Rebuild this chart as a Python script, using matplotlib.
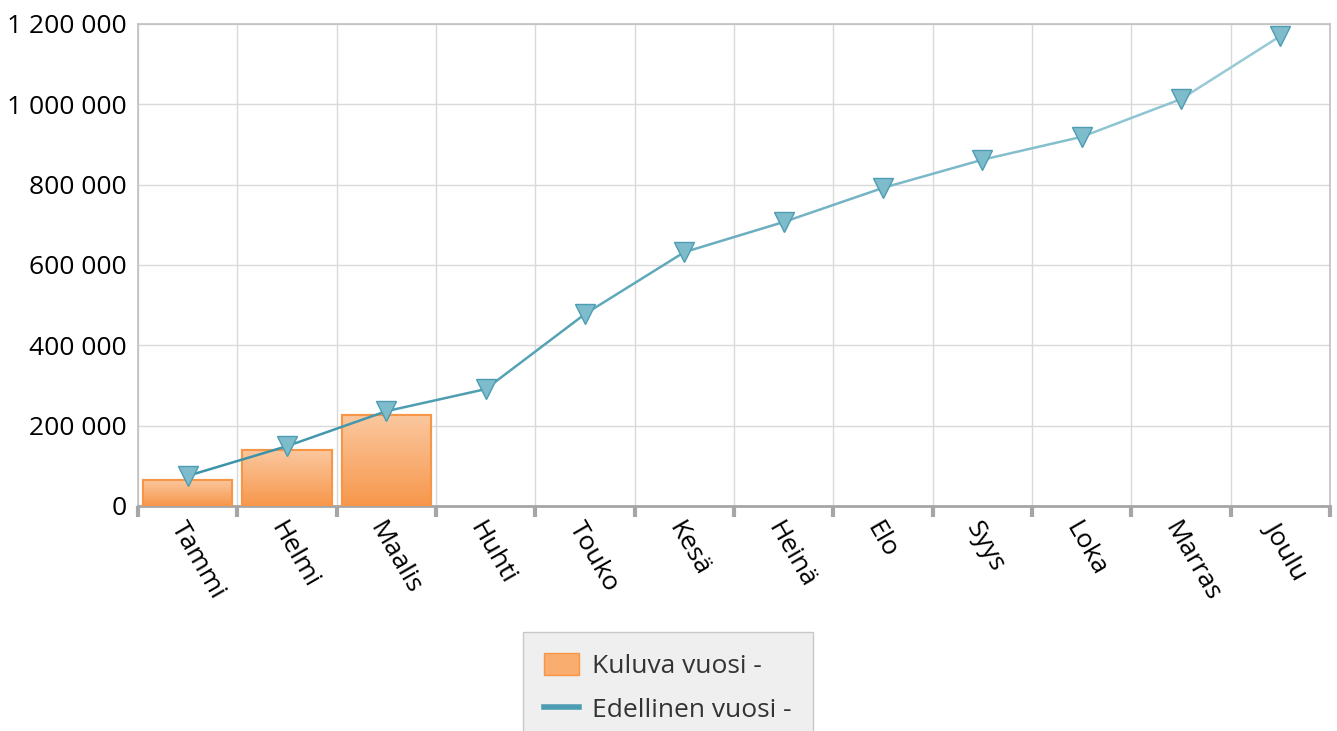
import numpy as np
import matplotlib.pyplot as plt
from matplotlib.collections import LineCollection
from matplotlib.colors import LinearSegmentedColormap
from matplotlib.ticker import FuncFormatter, MultipleLocator
from matplotlib.patches import Patch
from matplotlib.lines import Line2D

plt.rcParams['font.family'] = ['Open Sans', 'DejaVu Sans']

# month labels
months = ['Tammi', 'Helmi', 'Maalis', 'Huhti', 'Touko', 'Kesä',
          'Heinä', 'Elo', 'Syys', 'Loka', 'Marras', 'Joulu']
# current year (bars), only first three months so far
current_year = [65000, 139500, 227000]
# previous year (line)
previous_year = [75000, 149000, 236000, 291000, 478000, 632000,
                 707000, 792000, 862000, 919000, 1013000, 1170000]

fig = plt.figure(figsize=(13.37, 7.31), dpi=100)
ax = fig.add_axes([0.1032, 0.3078, 0.8916, 0.6594])

x = np.arange(len(months))
bars = ax.bar(x[:len(current_year)], current_year, width=0.9,
              color='#f9ad6e', edgecolor='#f79646', linewidth=1.5, zorder=2)

# vertical gradient in each bar
grad = np.linspace(0, 1, 256).reshape(-1, 1)
bar_cmap = LinearSegmentedColormap.from_list('b', ['#f7974b', '#fbc8a0'])
for b in bars:
    im = ax.imshow(grad, cmap=bar_cmap, origin='lower', aspect='auto',
                   extent=[b.get_x(), b.get_x() + b.get_width(), 0, b.get_height()],
                   zorder=2.5)
    im.set_clip_path(b)
    ax.add_patch(plt.Rectangle((b.get_x(), 0), b.get_width(), b.get_height(),
                               fill=False, edgecolor='#f79646', linewidth=1.5, zorder=3))

# line with colour fading left to right
pts = np.column_stack([x, previous_year])
segs = np.stack([pts[:-1], pts[1:]], axis=1)
line_cmap = LinearSegmentedColormap.from_list('l', ['#3b93a9', '#98c9d5'])
lc = LineCollection(segs, colors=line_cmap(np.linspace(0, 1, len(segs))),
                    linewidth=1.8, zorder=4)
ax.add_collection(lc)
ax.plot(x, previous_year, linestyle='none', marker='v', markersize=15,
        markerfacecolor='#7fbccb', markeredgecolor='#4d9db2', markeredgewidth=1,
        zorder=5)

ax.set_xlim(-0.5, len(months) - 0.5)
ax.set_ylim(0, 1200000)
ax.yaxis.set_major_locator(MultipleLocator(200000))
ax.yaxis.set_major_formatter(FuncFormatter(lambda v, p: f'{int(v):,}'.replace(',', ' ')))

ax.set_xticks(x)
ax.set_xticklabels(months, rotation=-60, ha='left', va='top',
                   rotation_mode='anchor', fontsize=19)
ax.set_xticks(np.arange(-0.5, len(months)), minor=True)
ax.tick_params(axis='x', which='major', length=0, pad=8)
ax.tick_params(axis='x', which='minor', length=8, width=3, color='#a6a6a6', direction='out')
ax.tick_params(axis='y', length=0, pad=8, labelsize=19)

ax.grid(True, axis='y', color='#d9d9d9', linewidth=1, zorder=0)
ax.grid(True, axis='x', which='minor', color='#d9d9d9', linewidth=1, zorder=0)
ax.set_axisbelow(True)
for s in ['top', 'right', 'left']:
    ax.spines[s].set_color('#c0c0c0')
    ax.spines[s].set_linewidth(1.2)
ax.spines['bottom'].set_color('#a6a6a6')
ax.spines['bottom'].set_linewidth(2)

handles = [Patch(facecolor='#f9ad6e', edgecolor='#f79646', label='Kuluva vuosi -'),
           Line2D([0], [0], color='#4d9db2', linewidth=4, label='Edellinen vuosi -')]
leg = fig.legend(handles=handles, loc='upper center', bbox_to_anchor=(0.4996, 0.135),
                 fontsize=19, frameon=True, fancybox=False, handlelength=1.3,
                 handleheight=0.9, handletextpad=0.5, labelspacing=0.65, borderpad=0.8,
                 borderaxespad=0)
leg.get_frame().set_facecolor('#ececec')
leg.get_frame().set_edgecolor('#bdbdbd')
for t in leg.get_texts():
    t.set_color('#333333')

fig.savefig('out.png', dpi=100)
